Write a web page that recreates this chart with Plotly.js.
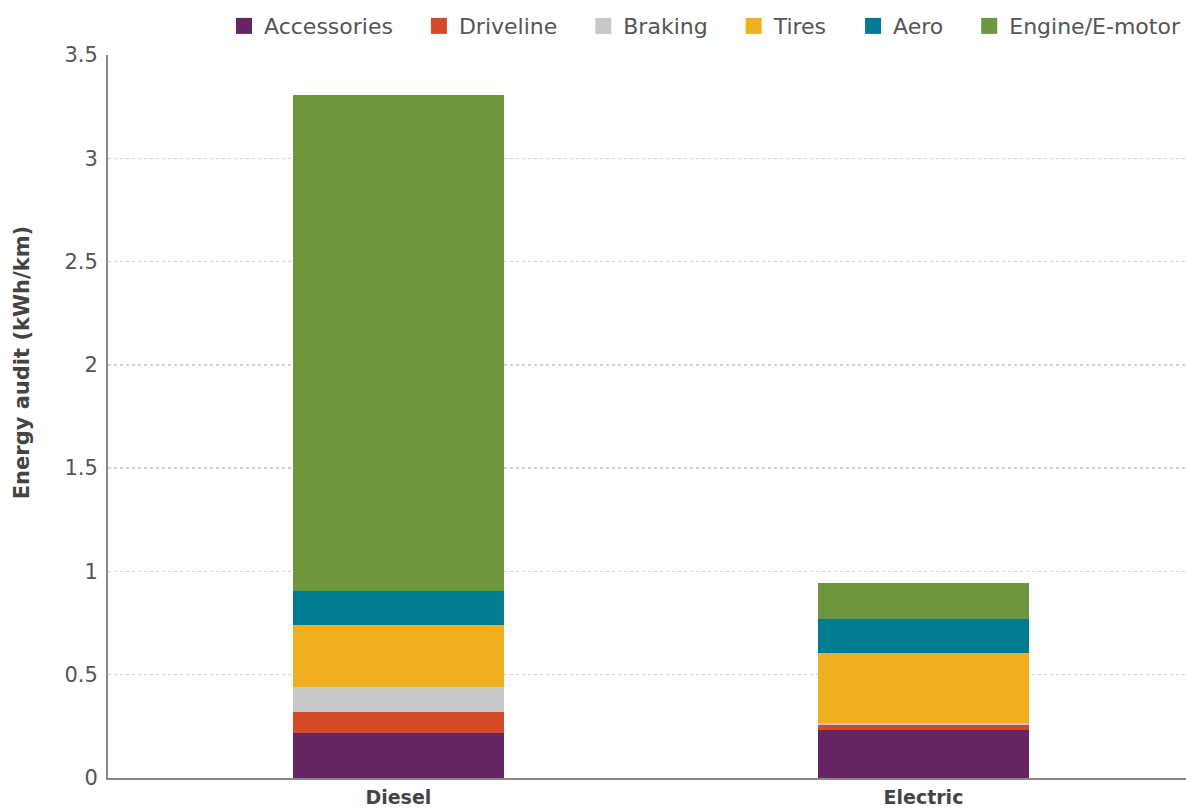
<!DOCTYPE html>
<html>
<head>
<meta charset="utf-8">
<script src="https://cdn.plot.ly/plotly-3.0.1.min.js"></script>
<style>html,body{margin:0;padding:0;background:#fff;}#chart{width:1186px;height:810px;}</style>
</head>
<body>
<div id="chart"></div>
<script>
const categories = ["Diesel", "Electric"];
const seriesNames = ["Accessories", "Driveline", "Braking", "Tires", "Aero", "Engine/E-motor"];
const accessories = [0.22, 0.23];
const driveline = [0.10, 0.028];
const braking = [0.12, 0.006];
const tires = [0.30, 0.342];
const aero = [0.165, 0.165];
const engine = [2.40, 0.174];
const colors = ["#652463", "#d44a26", "#c6c8ca", "#f0af1f", "#007b91", "#6e963d"];
const yTicks = [0, 0.5, 1, 1.5, 2, 2.5, 3, 3.5];
const yTickLabels = ["0", "0.5", "1", "1.5", "2", "2.5", "3", "3.5"];
const yTitle = "Energy audit (kWh/km)";

const values = [accessories, driveline, braking, tires, aero, engine];
const traces = values.map((v, i) => ({
  type: "bar",
  name: seriesNames[i],
  x: categories,
  y: v,
  width: 0.402,
  marker: { color: colors[i], line: { width: 0 } },
  showlegend: false,
  hoverinfo: "name+y"
}));
// legend-only entries with larger square swatches (extra spacing between entries)
const pad = "\u00a0\u00a0\u00a0";
seriesNames.forEach((n, i) => {
  traces.push({
    type: "scatter",
    mode: "markers",
    name: i < seriesNames.length - 1 ? n + pad : n,
    x: [null],
    y: [null],
    marker: { symbol: "square", size: 17, color: colors[i] },
    showlegend: true
  });
});

const layout = {
  width: 1186,
  height: 810,
  barmode: "stack",
  paper_bgcolor: "#fff",
  plot_bgcolor: "#fff",
  margin: { l: 108, r: 0, t: 55, b: 32, autoexpand: false },
  font: { family: "DejaVu Sans, sans-serif", color: "#555", size: 20 },
  showlegend: true,
  legend: {
    orientation: "h",
    x: 1.0, xanchor: "right",
    y: 1.040, yanchor: "middle",
    font: { size: 22, color: "#555", family: "DejaVu Sans, sans-serif" },
    itemwidth: 30,
    tracegroupgap: 0,
    traceorder: "normal"
  },
  xaxis: {
    type: "category",
    range: [-0.553, 1.5],
    showline: true,
    linecolor: "#888",
    linewidth: 2,
    ticks: "",
    ticklabelstandoff: 1,
    tickfont: { size: 19, color: "#444", family: "DejaVu Sans, sans-serif", weight: "bold" },
    showgrid: false,
    zeroline: false
  },
  yaxis: {
    range: [0, 3.5],
    tickvals: yTicks,
    ticktext: yTickLabels,
    showline: true,
    linecolor: "#888",
    linewidth: 2,
    ticks: "",
    ticklabelstandoff: 4,
    tickfont: { size: 21, color: "#555", family: "DejaVu Sans, sans-serif" },
    showgrid: true,
    gridcolor: "#d2d2d2",
    griddash: "dot",
    gridwidth: 1.5,
    zeroline: false
  },
  annotations: [{
    text: yTitle,
    xref: "paper", yref: "paper",
    x: -0.0798, y: 0.575,
    xanchor: "center", yanchor: "middle",
    textangle: -90,
    showarrow: false,
    font: { size: 21, color: "#444", weight: "bold", family: "DejaVu Sans, sans-serif" }
  }]
};

Plotly.newPlot("chart", traces, layout, { displayModeBar: false, staticPlot: true });
</script>
</body>
</html>
